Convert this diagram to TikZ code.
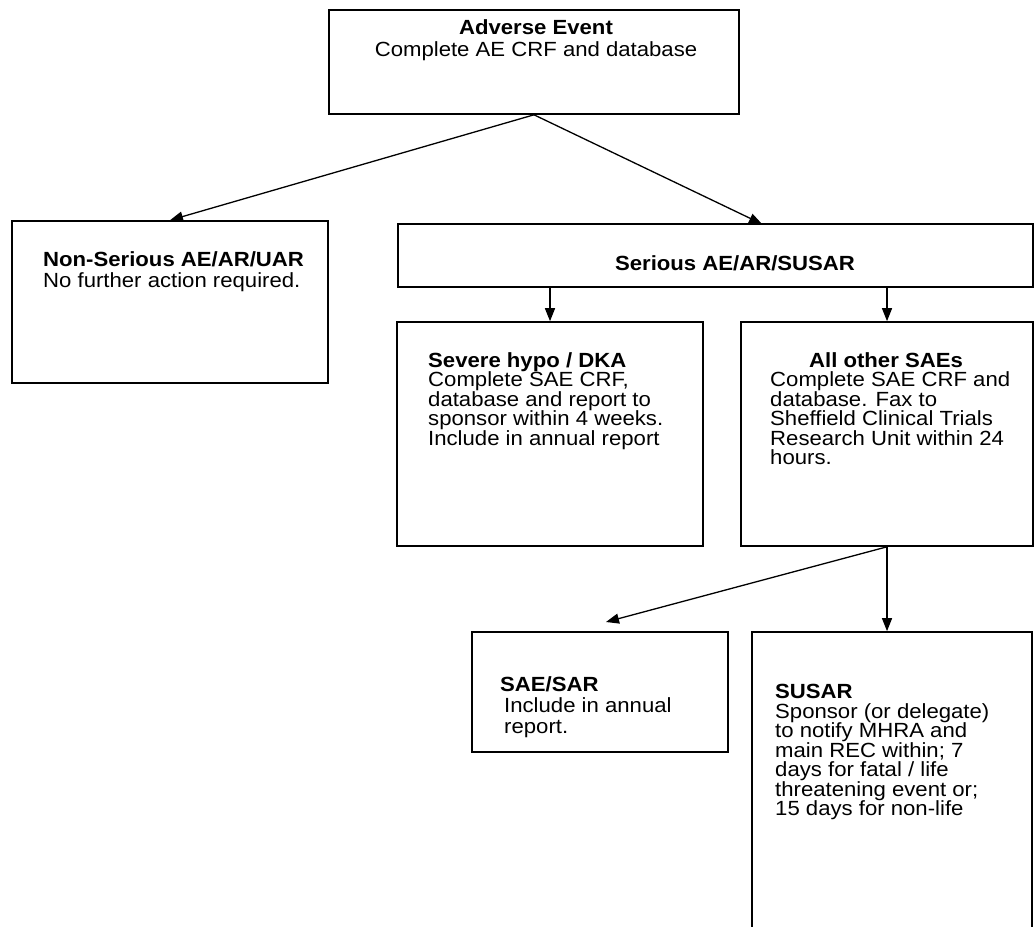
\documentclass[tikz,border=0pt]{standalone}
\usepackage{fontspec}
\setmainfont{Liberation Sans}[FakeStretch=1.08]
\usetikzlibrary{arrows.meta,positioning,calc}
\tikzset{
  evbox/.style={draw, line width=1.6pt, inner sep=0pt},
  evtext/.style={inner sep=0pt, align=left, font=\fontsize{20.5}{19.5}\selectfont},
  evarrow/.style={-{Triangle[length=13pt,width=10pt]}, line width=1.3pt},
}

\begin{document}
\begin{tikzpicture}[x=1pt, y=-1pt]
  \useasboundingbox (0,0) rectangle (1035,926);
  \clip (0,0) rectangle (1035,926);

  % boxes
  \node[evbox, minimum width=410pt, minimum height=104pt] (ae) at (534,62) {};
  \node[evbox, minimum width=316pt, minimum height=162pt] (nonser) at (170,302) {};
  \node[evbox, minimum width=635pt, minimum height=63pt] (serious) at (715.5,255.5) {};
  \node[evbox, minimum width=306pt, minimum height=224pt] (severe) at (550,434) {};
  \node[evbox, minimum width=292pt, minimum height=224pt] (allother) at (887,434) {};
  \node[evbox, minimum width=256pt, minimum height=120pt] (sae) at (600,692) {};
  \node[evbox, minimum width=280pt, minimum height=308pt] (susar) at (892,786) {};

  % texts
  \node[evtext, align=center, anchor=north] (aeTxt) at (536,19)
    {\textbf{Adverse Event}\\[3pt] Complete AE CRF and database};
  \node[evtext, anchor=north west] (nonserTxt) at (43,251)
    {\textbf{Non-Serious AE/AR/UAR}\\[1.5pt] No further action required.};
  \node[evtext, anchor=base] (seriousTxt) at (735,270)
    {\textbf{Serious AE/AR/SUSAR}};
  \node[evtext, anchor=north west] (severeTxt) at (428,352)
    {\textbf{Severe hypo / DKA}\\ Complete SAE CRF,\\ database and report to\\
     sponsor within 4 weeks.\\ Include in annual report};
  \node[evtext, anchor=north] (allotherHead) at (886,352)
    {\textbf{All other SAEs}};
  \node[evtext, anchor=north west] (allotherTxt) at (770,371.5)
    {Complete SAE CRF and\\ database. Fax to\\ Sheffield Clinical Trials\\
     Research Unit within 24\\ hours.};
  \node[evtext, anchor=north west] (saeTxt) at (500,676)
    {\textbf{SAE/SAR}\\[1.5pt] \hspace{4pt}Include in annual\\[1.5pt] \hspace{4pt}report.};
  \node[evtext, anchor=north west] (susarTxt) at (775,684)
    {\textbf{SUSAR}\\ Sponsor (or delegate)\\ to notify MHRA and\\ main REC within; 7\\
     days for fatal / life\\ threatening event or;\\ 15 days for non-life};

  % connectors
  \coordinate (serTip) at (762,224);
  \coordinate (saeTip) at (606,622);
  \draw[evarrow] (ae.south) -- (nonser.north);
  \draw[evarrow] (ae.south) -- (serTip);
  \draw[evarrow] (serious.south -| severe.north) -- (severe.north);
  \draw[evarrow] (serious.south -| allother.north) -- (allother.north);
  \draw[evarrow] (allother.south) -- (saeTip);
  \draw[evarrow] (allother.south) -- (allother.south |- susar.north);
\end{tikzpicture}
\end{document}
